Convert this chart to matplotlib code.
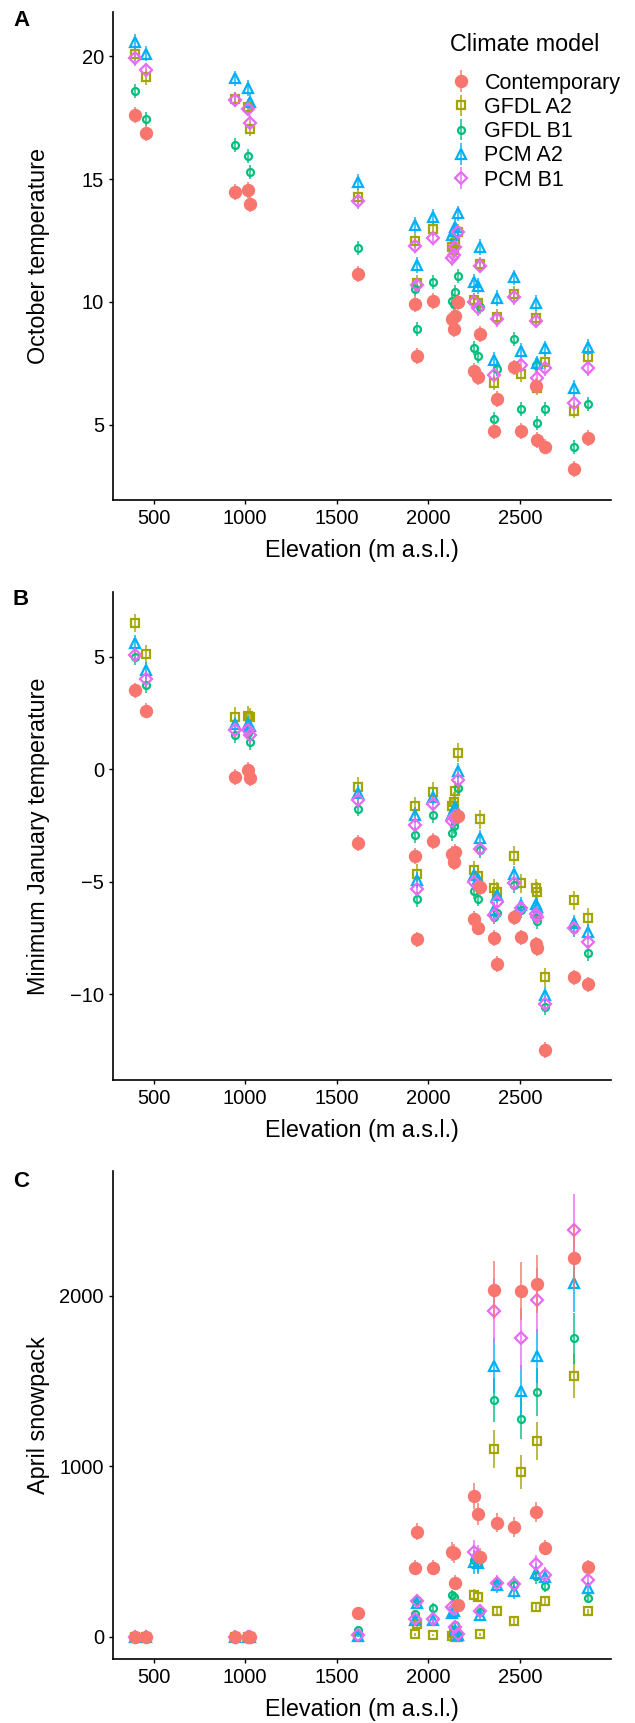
import matplotlib
matplotlib.use("Agg")
import matplotlib.pyplot as plt

plt.rcParams['font.family'] = ['Liberation Sans', 'DejaVu Sans']

# site elevations (m a.s.l.)
elev = [400, 458, 945, 1018, 1026, 1615, 1925, 1940, 2025, 2132, 2140, 2146, 2163,
        2250, 2270, 2282, 2360, 2378, 2467, 2505, 2590, 2594, 2637, 2797, 2872]

models = ["Contemporary", "GFDL A2", "GFDL B1", "PCM A2", "PCM B1"]

# panel A: October temperature
oct_contemp = [17.59, 16.87, 14.48, 14.54, 13.97, 11.14, 9.92, 7.80, 10.03, 9.31, 8.90, 9.45, 10.01,
               7.20, 6.96, 8.70, 4.76, 6.05, 7.34, 4.77, 6.60, 4.39, 4.12, 3.21, 4.48]
oct_gfdl_a2 = [20.10, 19.13, 18.25, 17.94, 17.03, 14.28, 12.49, 10.78, 12.97, 12.25, 12.10, 12.41, 12.86,
               10.08, 9.95, 11.54, 6.71, 9.40, 10.33, 7.06, 9.34, 6.50, 7.57, 5.58, 7.78]
oct_gfdl_b1 = [18.59, 17.45, 16.37, 15.95, 15.28, 12.21, 10.52, 8.89, 10.81, 10.05, 9.90, 10.42, 11.07,
               8.12, 7.82, 9.80, 5.23, 7.28, 8.48, 5.64, 7.45, 5.09, 5.64, 4.12, 5.84]
oct_pcm_a2 = [20.56, 20.10, 19.09, 18.71, 18.14, 14.89, 13.13, 11.50, 13.47, 12.72, 12.90, 13.06, 13.60,
              10.83, 10.65, 12.25, 7.64, 10.15, 11.00, 8.02, 9.97, 7.50, 8.11, 6.49, 8.18]
oct_pcm_b1 = [19.90, 19.43, 18.22, 17.85, 17.29, 14.09, 12.29, 10.68, 12.60, 11.78, 11.91, 12.25, 12.83,
              10.01, 9.74, 11.47, 7.04, 9.30, 10.19, 7.44, 9.23, 6.92, 7.30, 5.91, 7.30]
oct_err = [0.32, 0.30, 0.28, 0.32, 0.30]

# panel B: minimum January temperature
jan_contemp = [3.50, 2.61, -0.34, -0.04, -0.41, -3.27, -3.87, -7.57, -3.19, -3.75, -4.12, -3.67, -2.09,
               -6.64, -7.04, -5.26, -7.52, -8.67, -6.59, -7.48, -7.79, -7.97, -12.49, -9.26, -9.57]
jan_gfdl_a2 = [6.50, 5.11, 2.33, 2.37, 2.30, -0.77, -1.64, -4.64, -1.01, -1.64, -1.45, -0.96, 0.73,
               -4.49, -4.76, -2.22, -5.30, -5.45, -3.84, -5.08, -5.30, -5.45, -9.26, -5.82, -6.61]
jan_gfdl_b1 = [5.00, 3.73, 1.51, 1.59, 1.21, -1.75, -2.93, -5.79, -2.04, -2.83, -2.53, -2.30, -0.85,
               -5.41, -5.75, -3.60, -6.55, -6.39, -5.16, -6.25, -6.60, -6.75, -10.56, -7.10, -8.16]
jan_pcm_a2 = [5.63, 4.40, 1.99, 2.03, 1.90, -1.05, -2.04, -4.93, -1.23, -2.00, -1.82, -1.67, -0.07,
              -4.71, -4.86, -3.04, -6.27, -5.60, -4.64, -6.04, -6.00, -6.12, -10.04, -6.83, -7.23]
jan_pcm_b1 = [5.10, 4.01, 1.73, 1.73, 1.51, -1.38, -2.49, -5.33, -1.56, -2.30, -2.19, -2.10, -0.49,
              -5.01, -5.20, -3.53, -6.49, -5.92, -5.08, -6.19, -6.45, -6.59, -10.44, -7.05, -7.70]
jan_err = [0.35, 0.42, 0.35, 0.35, 0.35]

# panel C: April snowpack
snow_contemp = [0, 0, 0, 0, 0, 137, 404, 615, 404, 498, 488, 316, 186,
                824, 719, 469, 2031, 668, 644, 2025, 732, 2070, 521, 2222, 410]
snow_gfdl_a2 = [0, 0, 0, 0, 0, 0, 14, 74, 10, 5, 20, 0, 0,
                244, 231, 14, 1100, 152, 92, 967, 176, 1146, 209, 1529, 150]
snow_gfdl_b1 = [0, 0, 0, 0, 0, 37, 133, 215, 170, 244, 232, 67, 20,
                450, 430, 145, 1387, 316, 300, 1277, 356, 1435, 299, 1748, 225]
snow_pcm_a2 = [0, 0, 0, 0, 0, 5, 95, 200, 95, 137, 150, 40, 10,
               440, 430, 127, 1588, 303, 268, 1441, 375, 1646, 351, 2074, 283]
snow_pcm_b1 = [0, 0, 0, 0, 0, 10, 102, 209, 102, 176, 160, 59, 14,
               498, 470, 152, 1910, 313, 309, 1748, 426, 1972, 361, 2386, 332]
snow_err_contemp = [5, 5, 5, 5, 5, 20, 45, 50, 45, 55, 55, 45, 35, 75, 65, 50, 170, 55, 60, 170, 60, 170, 45, 190, 40]
snow_err_gfdl_a2 = [2, 2, 2, 2, 2, 3, 10, 15, 8, 5, 8, 3, 3, 35, 30, 8, 110, 20, 15, 100, 20, 110, 25, 130, 15]
snow_err_gfdl_b1 = [2, 2, 2, 2, 2, 8, 20, 30, 25, 30, 30, 15, 8, 55, 50, 20, 130, 40, 40, 120, 45, 140, 35, 150, 25]
snow_err_pcm_a2 = [2, 2, 2, 2, 2, 5, 20, 35, 20, 25, 25, 10, 5, 70, 65, 25, 160, 45, 45, 150, 50, 160, 40, 170, 30]
snow_err_pcm_b1 = [2, 2, 2, 2, 2, 5, 20, 35, 20, 30, 30, 12, 5, 70, 65, 30, 190, 50, 45, 180, 50, 190, 45, 210, 40]

colors = ["#F8766D", "#A3A500", "#00BF7D", "#00B0F6", "#E76BF3"]
markers = ["o", "s", "o", "^", "D"]
msizes = [8.0, 5.8, 5.0, 6.8, 5.8]
filled = [True, False, False, False, False]

W, H = 635, 1723
fig = plt.figure(figsize=(W / 100, H / 100), dpi=100)

left, right = 113, 611
panels = [(12, 500), (592, 1080), (1171, 1659)]
axes = []
for top, bot in panels:
    ax = fig.add_axes([left / W, 1 - bot / H, (right - left) / W, (bot - top) / H])
    axes.append(ax)


def draw(ax, series, errs):
    hs = {}
    for i in [1, 2, 3, 4, 0]:
        c = colors[i]
        h = ax.errorbar(elev, series[i], yerr=errs[i], fmt=markers[i], ms=msizes[i],
                        mfc=c if filled[i] else "none", mec=c, mew=1.6,
                        ecolor=matplotlib.colors.to_rgba(c, 0.8), elinewidth=1.3,
                        capsize=0, zorder=3 if i else 4)
        hs[i] = h
    return [hs[i] for i in range(5)]


handles = draw(axes[0], [oct_contemp, oct_gfdl_a2, oct_gfdl_b1, oct_pcm_a2, oct_pcm_b1], oct_err)
draw(axes[1], [jan_contemp, jan_gfdl_a2, jan_gfdl_b1, jan_pcm_a2, jan_pcm_b1], jan_err)
draw(axes[2], [snow_contemp, snow_gfdl_a2, snow_gfdl_b1, snow_pcm_a2, snow_pcm_b1],
     [snow_err_contemp, snow_err_gfdl_a2, snow_err_gfdl_b1, snow_err_pcm_a2, snow_err_pcm_b1])

ylims = [(1.95, 21.79), (-13.82, 7.88), (-131, 2730)]
yticks = [[5, 10, 15, 20], [-10, -5, 0, 5], [0, 1000, 2000]]
ylabels = ["October temperature", "Minimum January temperature", "April snowpack"]
for ax, yl, yt, lab in zip(axes, ylims, yticks, ylabels):
    ax.set_xlim(278.5, 2998)
    ax.set_ylim(*yl)
    ax.set_yticks(yt)
    ax.set_xticks([500, 1000, 1500, 2000, 2500])
    for s in ["top", "right"]:
        ax.spines[s].set_visible(False)
    for s in ["left", "bottom"]:
        ax.spines[s].set_linewidth(1.2)
    ax.tick_params(length=3, width=1, labelsize=14.5, pad=3.5, colors="black")
    ax.set_xlabel("Elevation (m a.s.l.)", fontsize=16.8)
    ax.set_ylabel(lab, fontsize=16.8)
    ax.xaxis.set_label_coords(0.5, -0.08)
    ax.yaxis.set_label_coords(-0.127, 0.5)

for letter, top in zip("ABC", [10, 589, 1171]):
    fig.text(13 / W, 1 - top / H, letter, fontsize=16, fontweight="bold", va="top", ha="left")

leg = axes[0].legend(handles, models, title="Climate model", loc="upper left",
                     bbox_to_anchor=(450 / W, 1 - 33 / H), bbox_transform=fig.transFigure,
                     frameon=False, fontsize=15.5, title_fontsize=16.8, borderpad=0,
                     borderaxespad=0, handlelength=1.0, handletextpad=0.6,
                     labelspacing=0.15, alignment="left")
# extra gap between the legend title and the entries
leg._legend_box.sep = 12

fig.savefig("out.png", dpi=100)
